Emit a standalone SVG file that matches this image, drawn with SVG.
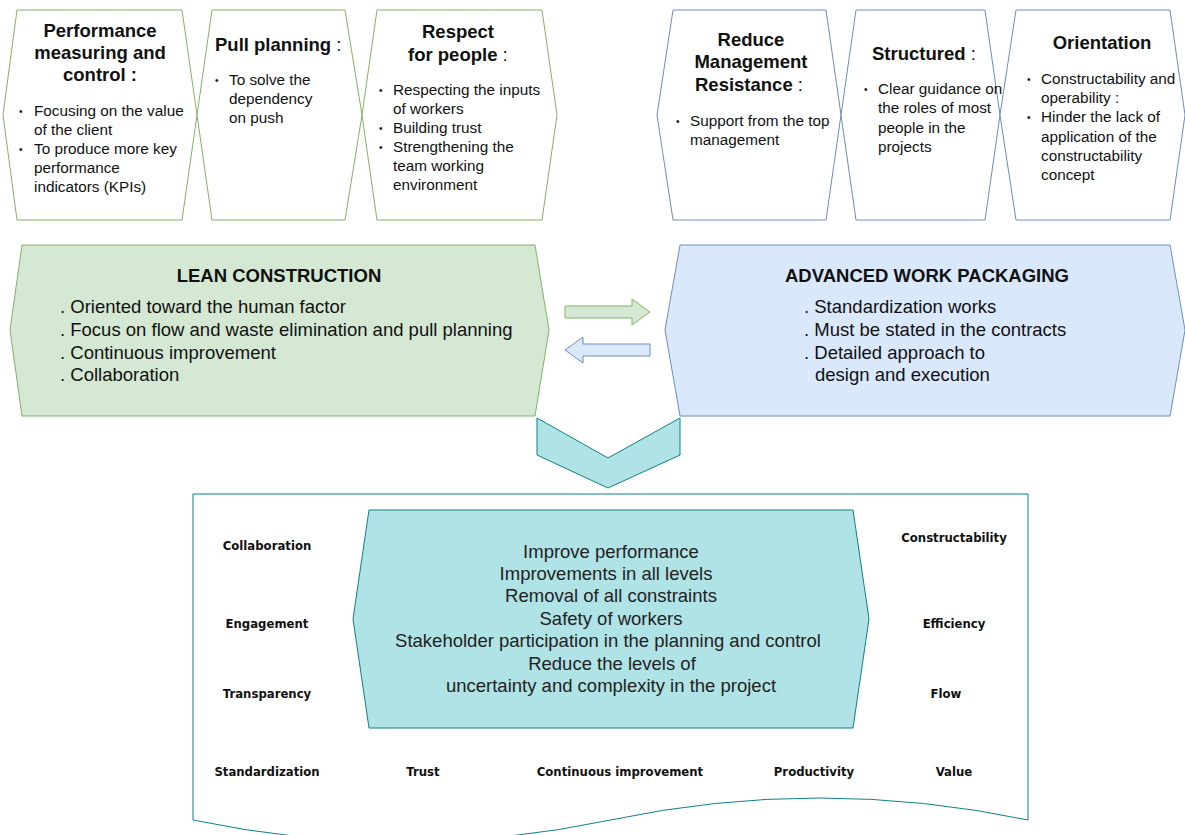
<svg xmlns="http://www.w3.org/2000/svg" width="1185" height="835" viewBox="0 0 1185 835">
<style>
text{font-family:"Liberation Sans",Arial,sans-serif;fill:#111;}
.g{fill:#fff;stroke:#82b366;stroke-width:1;}
.b{fill:#fff;stroke:#6c8ebf;stroke-width:1;}
.t{font-size:18.5px;font-weight:bold;}
.tc{font-size:18.5px;font-weight:bold;text-anchor:middle;}
.bl{font-size:15.3px;}
.dot{font-size:10px;}
.big{font-size:18.5px;}
.mid{font-size:18.5px;text-anchor:middle;fill:#222;}
.lbl{font-family:"DejaVu Sans",Verdana,sans-serif;font-size:11.7px;font-weight:bold;text-anchor:middle;}
</style>
<rect width="1185" height="835" fill="#fff"/>

<g id="performance">
<polygon class="g" points="17,10 182,10 197,115 182,220 17,220 3,115"/>
<text class="tc" x="100" y="37">Performance</text>
<text class="tc" x="100" y="59">measuring and</text>
<text class="tc" x="100" y="81">control :</text>
<text class="dot" x="19" y="115">•</text><text class="bl" x="34" y="116">Focusing on the value</text>
<text class="bl" x="34" y="135">of the client</text>
<text class="dot" x="19" y="153">•</text><text class="bl" x="34" y="154">To produce more key</text>
<text class="bl" x="34" y="173">performance</text>
<text class="bl" x="34" y="192">indicators (KPIs)</text>
</g>

<g id="pull-planning">
<polygon class="g" points="212,10 345,10 362,115 345,220 212,220 197,115"/>
<text x="215" y="51"><tspan class="t">Pull planning</tspan><tspan font-size="18.5px"> :</tspan></text>
<text class="dot" x="215" y="84">•</text><text class="bl" x="229" y="85">To solve the</text>
<text class="bl" x="229" y="104">dependency</text>
<text class="bl" x="229" y="123">on push</text>
</g>

<g id="respect">
<polygon class="g" points="377,10 542,10 557,115 542,220 377,220 362,115"/>
<text class="tc" x="458" y="38">Respect</text>
<text x="408" y="61"><tspan class="t">for people</tspan><tspan font-size="18.5px"> :</tspan></text>
<text class="dot" x="379" y="94">•</text><text class="bl" x="393" y="95">Respecting the inputs</text>
<text class="bl" x="393" y="114">of workers</text>
<text class="dot" x="379" y="132">•</text><text class="bl" x="393" y="133">Building trust</text>
<text class="dot" x="379" y="151">•</text><text class="bl" x="393" y="152">Strengthening the</text>
<text class="bl" x="393" y="171">team working</text>
<text class="bl" x="393" y="190">environment</text>
</g>

<g id="reduce-resistance">
<polygon class="b" points="673,10 826,10 841,115 826,220 673,220 657,115"/>
<text class="tc" x="751" y="46">Reduce</text>
<text class="tc" x="751" y="68">Management</text>
<text x="695" y="91"><tspan class="t">Resistance</tspan><tspan font-size="18.5px">  :</tspan></text>
<text class="dot" x="676" y="125">•</text><text class="bl" x="690" y="126">Support from the top</text>
<text class="bl" x="690" y="145">management</text>
</g>

<g id="structured">
<polygon class="b" points="856,10 985,10 1000,115 985,220 856,220 841,115"/>
<text x="872" y="60"><tspan class="t">Structured</tspan><tspan font-size="18.5px">  :</tspan></text>
<text class="dot" x="864" y="93">•</text><text class="bl" x="878" y="94">Clear guidance on</text>
<text class="bl" x="878" y="113">the roles of most</text>
<text class="bl" x="878" y="133">people in the</text>
<text class="bl" x="878" y="152">projects</text>
</g>

<g id="orientation">
<polygon class="b" points="1016,10 1170,10 1185,115 1170,220 1016,220 1000,115"/>
<text class="tc" x="1102" y="49">Orientation</text>
<text class="dot" x="1027" y="83">•</text><text class="bl" x="1041" y="84">Constructability and</text>
<text class="bl" x="1041" y="103">operability  :</text>
<text class="dot" x="1027" y="121">•</text><text class="bl" x="1041" y="122">Hinder the lack of</text>
<text class="bl" x="1041" y="142">application of the</text>
<text class="bl" x="1041" y="161">constructability</text>
<text class="bl" x="1041" y="180">concept</text>
</g>

<g id="lean-construction">
<polygon points="22,245 535,245 549,330 535,416 22,416 10,330" fill="#d5e8d4" stroke="#82b366"/>
<text class="tc" x="279" y="282">LEAN CONSTRUCTION</text>
<text class="big" x="60" y="313">. Oriented toward the human factor</text>
<text class="big" x="60" y="336">. Focus on flow and waste elimination and pull planning</text>
<text class="big" x="60" y="359">. Continuous improvement</text>
<text class="big" x="60" y="381">. Collaboration</text>
</g>

<g id="advanced-work-packaging">
<polygon points="680,245 1170,245 1185,330 1170,416 680,416 665,330" fill="#dae8fc" stroke="#6c8ebf"/>
<text class="tc" x="927" y="282">ADVANCED WORK PACKAGING</text>
<text class="big" x="804" y="313">. Standardization works</text>
<text class="big" x="804" y="336">. Must be stated in the contracts</text>
<text class="big" x="804" y="359">. Detailed approach to</text>
<text class="big" x="815" y="381">design and execution</text>
</g>

<g id="connectors">
<polygon points="565,306 632,306 632,299 650,312 632,325 632,318 565,318" fill="#d5e8d4" stroke="#82b366"/>
<polygon points="650,344 583,344 583,337 565,350 583,363 583,356 650,356" fill="#dae8fc" stroke="#6c8ebf"/>
</g>

<g id="chevron">
<polygon points="537,418 608,458 680,418 680,455 608,488 537,455" fill="#b0e3e6" stroke="#0e8088"/>
</g>

<g id="outcomes">
<path d="M193,494 H1028 V820 Q819,776 610.5,820 Q402,864 193,820 Z" fill="#fff" stroke="#0e8088"/>
<text class="lbl" x="267" y="550">Collaboration</text>
<text class="lbl" x="267" y="628">Engagement</text>
<text class="lbl" x="267" y="698">Transparency</text>
<text class="lbl" x="267" y="776">Standardization</text>
<text class="lbl" x="423" y="776">Trust</text>
<text class="lbl" x="620" y="776">Continuous improvement</text>
<text class="lbl" x="814" y="776">Productivity</text>
<text class="lbl" x="954" y="776">Value</text>
<text class="lbl" x="954" y="542">Constructability</text>
<text class="lbl" x="954" y="628">Efficiency</text>
<text class="lbl" x="946" y="698">Flow</text>
</g>

<g id="goals">
<polygon points="369,510 853,510 869,619 853,728 369,728 353,619" fill="#b0e3e6" stroke="#0e8088"/>
<text class="mid" x="611" y="558">Improve performance</text>
<text class="mid" x="606" y="580">Improvements in all levels</text>
<text class="mid" x="611" y="602">Removal of all constraints</text>
<text class="mid" x="611" y="625">Safety of workers</text>
<text class="mid" x="608" y="647">Stakeholder participation in the planning and control</text>
<text class="mid" x="612" y="670">Reduce the levels of</text>
<text class="mid" x="611" y="692">uncertainty and complexity in the project</text>
</g>
</svg>
